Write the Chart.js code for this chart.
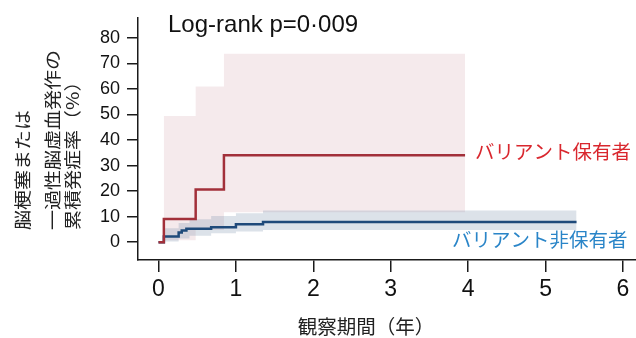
<!DOCTYPE html>
<html>
<head>
<meta charset="utf-8">
<script src="https://cdn.jsdelivr.net/npm/chart.js@4/dist/chart.umd.min.js"></script>
<style>
  html, body { margin: 0; padding: 0; background: #fff; }
  #wrap { width: 636px; height: 338px; }
</style>
</head>
<body>
<div id="wrap"><canvas id="c" width="636" height="338"></canvas></div>
<script>
// ---- data ----
const xTickValues = [0, 1, 2, 3, 4, 5, 6];
const yTickValues = [0, 10, 20, 30, 40, 50, 60, 70, 80];

// variant carriers (cumulative incidence, %)
const carrierTimes = [0, 0.069, 0.48, 0.845, 3.96];
const carrierCum   = [0, 9.1, 20.6, 34.0, 34.0];
const carrierCiTimes = [0.069, 0.48, 0.845, 3.96];
const carrierCiUpper = [49.4, 60.9, 73.7, 73.7];
const carrierCiLower = [0.8, 4.8, 11.7, 11.7];

// variant non-carriers
const nonCarrierTimes = [0, 0.069, 0.26, 0.30, 0.36, 0.68, 1.0, 1.35, 5.40];
const nonCarrierCum   = [0, 2.2, 3.8, 4.6, 5.3, 5.9, 7.0, 7.9, 7.9];
const nonCarrierCiTimes = [0.069, 0.26, 0.40, 0.68, 1.0, 1.35, 5.40];
const nonCarrierCiUpper = [5.5, 7.5, 9.0, 10.3, 11.3, 12.4, 12.4];
const nonCarrierCiLower = [0.3, 1.5, 2.5, 3.5, 4.2, 4.8, 4.8];

const labelCarrier = 'バリアント保有者';
const labelNonCarrier = 'バリアント非保有者';
const pValueText = 'Log-rank p=0·009';
const xTitle = '観察期間（年）';
const yTitleLines = ['脳梗塞または', '一過性脳虚血発作の', '累積発症率（%）'];

const pts = (xs, ys) => xs.map((x, i) => ({ x: x, y: ys[i] }));

const CJK = '"Noto Sans CJK JP", "Noto Sans CJK SC", sans-serif';
const LAT = '"Liberation Sans", Arial, Helvetica, sans-serif';
const AXIS = '#1a1a1a';

const textPlugin = {
  id: 'texts',
  afterDraw(chart) {
    const ctx = chart.ctx;
    ctx.save();
    ctx.fillStyle = '#111';
    ctx.font = '24px ' + LAT;
    ctx.textAlign = 'left';
    ctx.textBaseline = 'alphabetic';
    ctx.fillText(pValueText, 168, 31.5);

    ctx.font = '19.5px ' + CJK;
    ctx.textBaseline = 'middle';
    ctx.fillStyle = '#d9272e';
    ctx.fillText(labelCarrier, 475, 152);
    ctx.fillStyle = '#2a85c8';
    ctx.fillText(labelNonCarrier, 452, 240);

    ctx.fillStyle = '#222';
    ctx.font = '19.5px ' + CJK;
    ctx.textAlign = 'center';
    ctx.fillText(xTitle, 366, 327);

    const cx = [22.5, 52.5, 72.5];
    ctx.font = '20px ' + CJK;
    ctx.textAlign = 'left';
    ctx.textBaseline = 'middle';
    yTitleLines.forEach((t, i) => {
      ctx.save();
      ctx.translate(cx[i], 230);
      ctx.rotate(-Math.PI / 2);
      ctx.scale(1, 0.88);
      ctx.fillText(t, 0, 0);
      ctx.restore();
    });
    ctx.restore();
  }
};

new Chart(document.getElementById('c'), {
  type: 'line',
  data: {
    datasets: [
      {
        data: pts(carrierTimes, carrierCum),
        borderColor: '#a2303a', borderWidth: 2.5,
        stepped: 'before', pointRadius: 0, fill: false
      },
      {
        data: pts(nonCarrierTimes, nonCarrierCum),
        borderColor: '#1f4a7a', borderWidth: 2.5,
        stepped: 'before', pointRadius: 0, fill: false
      },
      {
        data: pts(nonCarrierCiTimes, nonCarrierCiUpper),
        borderWidth: 0, borderColor: 'rgba(0,0,0,0)',
        backgroundColor: 'rgba(115,139,167,0.25)',
        stepped: 'before', pointRadius: 0, fill: '+1'
      },
      {
        data: pts(nonCarrierCiTimes, nonCarrierCiLower),
        borderWidth: 0, borderColor: 'rgba(0,0,0,0)',
        stepped: 'before', pointRadius: 0, fill: false
      },
      {
        data: pts(carrierCiTimes, carrierCiUpper),
        borderWidth: 0, borderColor: 'rgba(0,0,0,0)',
        backgroundColor: 'rgba(205,150,160,0.2)',
        stepped: 'before', pointRadius: 0, fill: '+1'
      },
      {
        data: pts(carrierCiTimes, carrierCiLower),
        borderWidth: 0, borderColor: 'rgba(0,0,0,0)',
        stepped: 'before', pointRadius: 0, fill: false
      }
    ]
  },
  options: {
    responsive: false,
    animation: false,
    devicePixelRatio: 1,
    layout: { padding: { top: 15, right: 0, bottom: 0, left: 0 } },
    plugins: { legend: { display: false }, tooltip: { enabled: false } },
    scales: {
      x: {
        type: 'linear',
        min: -0.265, max: 6.168,
        afterBuildTicks: (s) => { s.ticks = xTickValues.map(v => ({ value: v })); },
        afterFit: (s) => { s.height = 78; },
        border: { display: true, color: AXIS, width: 1.5 },
        grid: { display: true, drawOnChartArea: false, drawTicks: true, tickLength: 12, color: AXIS, lineWidth: 1.5 },
        ticks: { font: { family: LAT, size: 23 }, color: '#111', padding: 4, maxRotation: 0 }
      },
      y: {
        type: 'linear',
        min: -6.96, max: 87.8,
        afterBuildTicks: (s) => { s.ticks = yTickValues.map(v => ({ value: v })); },
        afterFit: (s) => { s.width = 138; },
        border: { display: true, color: AXIS, width: 1.5 },
        grid: { display: true, drawOnChartArea: false, drawTicks: true, tickLength: 11, color: AXIS, lineWidth: 1.5 },
        ticks: { font: { family: LAT, size: 18 }, color: '#111', padding: 7 }
      }
    }
  },
  plugins: [textPlugin]
});
</script>
</body>
</html>
